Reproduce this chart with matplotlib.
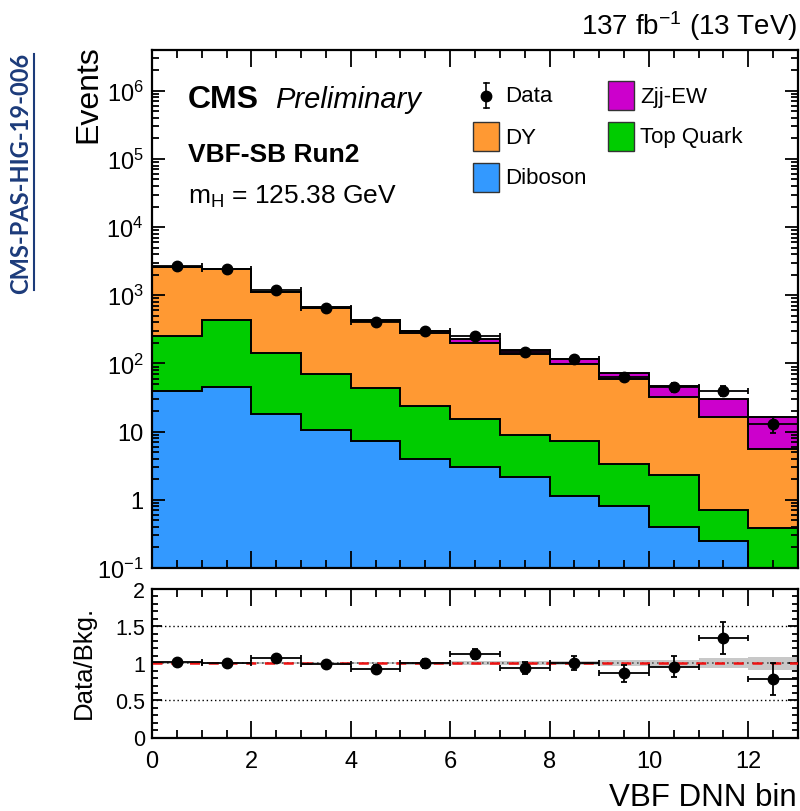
import numpy as np
import matplotlib
matplotlib.use("Agg")
import matplotlib.pyplot as plt
from matplotlib.patches import Rectangle
from matplotlib.lines import Line2D
from matplotlib.ticker import FixedLocator, MultipleLocator, LogLocator, FuncFormatter, NullFormatter

plt.rcParams['font.family'] = ['Liberation Sans', 'DejaVu Sans']
plt.rcParams['mathtext.fontset'] = 'custom'
plt.rcParams['mathtext.rm'] = 'Liberation Sans'
plt.rcParams['mathtext.it'] = 'Liberation Sans:italic'
plt.rcParams['mathtext.bf'] = 'Liberation Sans:bold'

# ---- data ----
bin_edges = np.arange(0, 14)
diboson = [40, 45, 18, 10.4, 7.4, 4.0, 2.98, 2.13, 1.12, 0.817, 0.40, 0.246, 0.0]
top_quark = [215, 387, 123, 60.6, 36.6, 19.8, 12.2, 6.67, 6.28, 2.51, 1.88, 0.454, 0.385]
dy = [2355, 1958, 959, 585, 374, 259, 187, 128, 89.6, 55.2, 30.3, 15.9, 5.2]
zjj_ew = [15, 15, 20, 12, 20, 15, 23, 20, 19, 14.5, 14.7, 13.2, 11.0]
data = [2672, 2405, 1198, 659, 405, 298, 253, 147, 116, 63, 45, 40, 13]
bkg_rel_unc = [0.01, 0.01, 0.012, 0.015, 0.015, 0.02, 0.025, 0.03, 0.03, 0.04, 0.045, 0.07, 0.09]

process_names = ["Diboson", "Top Quark", "DY", "Zjj-EW"]
process_colors = ["#3399ff", "#00cc00", "#ff9933", "#cc00cc"]

# ---- figure layout ----
W, H = 800, 812
fig = plt.figure(figsize=(W / 100, H / 100), dpi=100)

def fx(px):
    return px / W

def fy(py):
    return 1 - py / H

ax = fig.add_axes([fx(152), fy(569), fx(798) - fx(152), fy(50.7) - fy(569)])
rax = fig.add_axes([fx(152), fy(738.5), fx(798) - fx(152), fy(590) - fy(738.5)])

edges = np.asarray(bin_edges, dtype=float)
centers = 0.5 * (edges[:-1] + edges[1:])
layers = [np.asarray(v, dtype=float) for v in (diboson, top_quark, dy, zjj_ew)]
cum = np.cumsum(np.vstack(layers), axis=0)
total = cum[-1]
floor = 1e-4

# stacked histogram fills
bottom = np.full_like(total, floor)
for top_vals, col in zip(cum, process_colors):
    top_c = np.maximum(top_vals, floor)
    ax.stairs(top_c, edges, baseline=bottom, fill=True, facecolor=col,
              edgecolor='none', zorder=1)
    bottom = top_c
# outlines of each stacked component
for top_vals in cum:
    ax.stairs(np.maximum(top_vals, floor), edges, color='black', lw=1.4,
              zorder=2)

data_arr = np.asarray(data, dtype=float)
ax.errorbar(centers, data_arr, xerr=0.5, yerr=np.sqrt(data_arr), fmt='o',
            color='black', ms=7.5, lw=1.3, capsize=2.2, capthick=1.3, zorder=5)

ax.set_yscale('log')
ax.set_xlim(0, 13)
ax.set_ylim(0.1, 4e6)


def log_fmt(v, pos):
    e = int(round(np.log10(v)))
    if e == 0:
        return "1"
    if e == 1:
        return "10"
    return r"10$^{\mathrm{%d}}$" % e


ax.yaxis.set_major_locator(LogLocator(base=10, numticks=20))
ax.yaxis.set_minor_locator(LogLocator(base=10, subs=np.arange(2, 10), numticks=20))
ax.yaxis.set_major_formatter(FuncFormatter(log_fmt))
ax.yaxis.set_minor_formatter(NullFormatter())

for a in (ax, rax):
    a.xaxis.set_major_locator(MultipleLocator(2))
    a.xaxis.set_minor_locator(MultipleLocator(0.5))
    a.tick_params(which='both', direction='in', top=True, right=True,
                  width=1.3, colors='black')
    a.tick_params(axis='x', which='major', length=12)
    a.tick_params(axis='x', which='minor', length=6)
    for s in a.spines.values():
        s.set_linewidth(1.6)

ax.tick_params(axis='y', which='major', length=9.5, labelsize=17, pad=6)
ax.tick_params(axis='y', which='minor', length=5)
ax.tick_params(axis='x', labelbottom=False)

# ---- ratio panel ----
ratio = data_arr / total
ratio_err = np.sqrt(data_arr) / total
unc = np.asarray(bkg_rel_unc)
rax.stairs(1 + unc, edges, baseline=1 - unc, fill=True, facecolor='#c8c8c8',
           edgecolor='none', zorder=1)
rax.axhline(1.5, color='black', ls=(0, (1, 2)), lw=1.0, zorder=2)
rax.axhline(0.5, color='black', ls=(0, (1, 2)), lw=1.0, zorder=2)
rax.axhline(1.0, color='#555555', ls=(0, (1, 2)), lw=1.2, zorder=2)
rax.axhline(1.0, color='#ee1111', ls=(0, (4, 3.5)), lw=1.8, zorder=3)
rax.errorbar(centers, ratio, xerr=0.5, yerr=ratio_err, fmt='o', color='black',
             ms=7.5, lw=1.3, capsize=2.2, capthick=1.3, zorder=5)
rax.set_xlim(0, 13)
rax.set_ylim(0, 2)
rax.yaxis.set_major_locator(FixedLocator([0, 0.5, 1, 1.5, 2]))
rax.yaxis.set_minor_locator(MultipleLocator(0.1))
rax.yaxis.set_major_formatter(FuncFormatter(lambda v, p: "%g" % v))
rax.tick_params(axis='y', which='major', length=7, labelsize=15.5, pad=5)
rax.tick_params(axis='y', which='minor', length=4.5)
rax.tick_params(axis='x', which='major', labelsize=17, pad=9)

# ---- axis titles ----
fig.text(fx(88), fy(45), "Events", rotation=90, ha='center', va='top', fontsize=23)
fig.text(fx(84), fy(662), "Data/Bkg.", rotation=90, ha='center', va='center', fontsize=18.5)
fig.text(fx(797), fy(806), "VBF DNN bin", ha='right', va='baseline', fontsize=22.5)

# ---- header and labels ----
fig.text(fx(797), fy(35), r"137 fb$^{\mathrm{-1}}$ (13 TeV)", ha='right',
         va='baseline', fontsize=20)
fig.text(fx(188), fy(108), "CMS", ha='left', va='baseline', fontsize=23,
         fontweight='bold')
fig.text(fx(275), fy(108), "Preliminary", ha='left', va='baseline', fontsize=21,
         style='italic')
fig.text(fx(188), fy(162), "VBF-SB Run2", ha='left', va='baseline', fontsize=19,
         fontweight='bold')
fig.text(fx(188), fy(204), r"m$_{\mathrm{H}}$ = 125.38 GeV", ha='left',
         va='baseline', fontsize=19)

# side reference tag
navy = '#1c3b7a'
fig.text(fx(21), fy(173), "CMS-PAS-HIG-19-006", rotation=90, ha='center',
         va='center', fontsize=17, color=navy, fontweight='bold',
         family=['Lato', 'DejaVu Sans'])
fig.add_artist(Line2D([fx(34), fx(34)], [fy(55), fy(291)],
                      transform=fig.transFigure, color=navy, lw=1.5))

# ---- legend ----
def legend_box(x, y, color, label):
    fig.add_artist(Rectangle((fx(x), fy(y + 29)), fx(26), 29 / H,
                             transform=fig.transFigure, facecolor=color,
                             edgecolor='#333333', lw=1.0))
    fig.text(fx(x + 32), fy(y + 15), label, ha='left', va='center', fontsize=16)

# data entry
fig.add_artist(Line2D([fx(486), fx(486)], [fy(84), fy(109)],
                      transform=fig.transFigure, color='black', lw=1.2))
fig.add_artist(Line2D([fx(483.5), fx(488.5)], [fy(84), fy(84)],
                      transform=fig.transFigure, color='black', lw=1.2))
fig.add_artist(Line2D([fx(483.5), fx(488.5)], [fy(109), fy(109)],
                      transform=fig.transFigure, color='black', lw=1.2))
fig.add_artist(Line2D([fx(486)], [fy(97)], transform=fig.transFigure,
                      marker='o', ms=7.5, color='black', ls='none'))
fig.text(fx(505), fy(97), "Data", ha='left', va='center', fontsize=16)

legend_box(473, 123, process_colors[2], process_names[2])
legend_box(473, 164, process_colors[0], process_names[0])
legend_box(608, 82, process_colors[3], process_names[3])
legend_box(608, 123, process_colors[1], process_names[1])

fig.savefig("out.png", dpi=100)
